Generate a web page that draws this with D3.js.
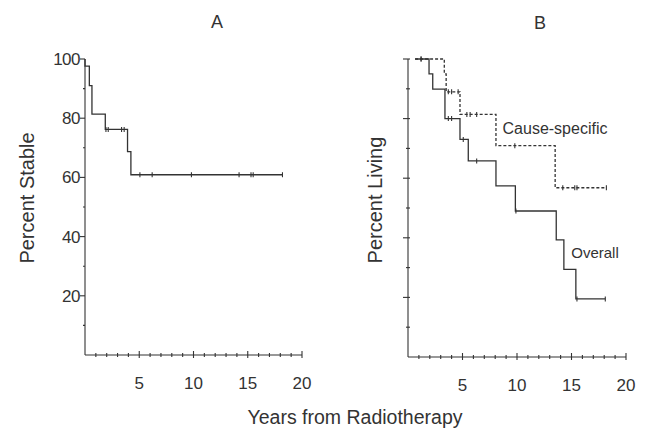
<!DOCTYPE html>
<html>
<head>
<meta charset="utf-8">
<script src="https://cdn.jsdelivr.net/npm/d3@7"></script>
<style>
  body { margin: 0; background: #fff; }
  svg { font-family: "Liberation Sans", Arial, sans-serif; }
</style>
</head>
<body>
<svg width="648" height="429"></svg>
<script>
// Panel A: percent stable
var stableTime  = [0, 0, 0.4, 0.64, 1.87, 3.92, 4.23, 18.2]
var stableValue = [100, 97.6, 91, 81.4, 76.2, 68.7, 60.9, 60.9]
var stableCensor = [1.93, 2.14, 3.37, 3.61, 5.06, 6.19, 9.81, 14.2, 15.3, 15.5, 18.2]

// Panel B: percent living
var overallTime  = [0.65, 1.93, 2.27, 3.39, 4.77, 5.53, 8.07, 9.85, 13.6, 14.3, 15.4, 18.1]
var overallValue = [100, 95, 89.9, 80, 73, 65.8, 57.4, 49, 39.3, 29.4, 19.5, 19.5]
var overallCensor = [1.2, 3.7, 4.0, 5.07, 6.3, 9.9, 15.5, 18.1]

var causeTime  = [0.65, 3.33, 3.5, 4.77, 8.07, 13.5, 18.2]
var causeValue = [100, 95, 89, 81.4, 70.9, 56.8, 56.8]
var causeCensor = [1.2, 3.7, 4.0, 4.6, 5.4, 5.7, 6.3, 9.8, 14.2, 15.3, 15.5, 18.2]

var xTicks = [5, 10, 15, 20]
var yTicksA = [20, 40, 60, 80, 100]

var svg = d3.select('svg')
var ink = '#333'

// value of a step curve at time t
function stepAt(times, values, t) {
    var v = values[0]
    for (var i = 0; i < times.length; i++) {
        if (times[i] <= t) v = values[i]
    }
    return v
}

function drawAxes(x, y, labels) {
    var g = svg.append('g').attr('stroke', ink).attr('stroke-width', 1.1)
    // y axis
    g.append('line').attr('x1', x(0)).attr('x2', x(0)).attr('y1', y(0)).attr('y2', y(100))
    d3.range(10, 101, 10).forEach(function (v) {
        var major = v % 20 == 0
        g.append('line')
            .attr('x1', x(0) - (major ? 5 : 2)).attr('x2', x(0) + (labels ? 0 : 2))
            .attr('y1', y(v)).attr('y2', y(v))
    })
    // x axis
    g.append('line').attr('x1', x(0)).attr('x2', x(20)).attr('y1', y(0)).attr('y2', y(0))
    d3.range(1, 21).forEach(function (t) {
        var major = t % 5 == 0
        g.append('line')
            .attr('x1', x(t)).attr('x2', x(t))
            .attr('y1', y(0) - (major ? 4 : 2)).attr('y2', y(0) + (major ? 3 : 2))
    })
    svg.selectAll(null).data(xTicks).enter().append('text')
        .attr('x', function (d) { return x(d) }).attr('y', y(0) + 34)
        .attr('text-anchor', 'middle').attr('font-size', 17).attr('fill', ink)
        .text(function (d) { return d })
    if (labels) {
        svg.selectAll(null).data(yTicksA).enter().append('text')
            .attr('x', x(0) - 5).attr('y', function (d) { return y(d) + 6 })
            .attr('text-anchor', 'end').attr('font-size', 17).attr('fill', ink)
            .attr('letter-spacing', -0.5)
            .text(function (d) { return d })
    }
}

function drawCurve(x, y, times, values, censor, dash) {
    var pts = times.map(function (t, i) { return [t, values[i]] })
    var line = d3.line()
        .x(function (d) { return x(d[0]) })
        .y(function (d) { return y(d[1]) })
        .curve(d3.curveStepAfter)
    svg.append('path').datum(pts)
        .attr('d', line)
        .attr('fill', 'none').attr('stroke', ink).attr('stroke-width', 1.3)
        .attr('stroke-dasharray', dash ? '3,2' : null)
    svg.selectAll(null).data(censor).enter().append('line')
        .attr('x1', function (d) { return x(d) }).attr('x2', function (d) { return x(d) })
        .attr('y1', function (d) { return y(stepAt(times, values, d)) - 2.5 })
        .attr('y2', function (d) { return y(stepAt(times, values, d)) + 2.5 })
        .attr('stroke', ink).attr('stroke-width', 1.1)
}

// Panel A
var xA = d3.scaleLinear().domain([0, 20]).range([85, 302])
var yA = d3.scaleLinear().domain([0, 100]).range([355, 59])
drawAxes(xA, yA, true)
drawCurve(xA, yA, stableTime, stableValue, stableCensor, false)

// Panel B
var xB = d3.scaleLinear().domain([0, 20]).range([408, 626])
var yB = d3.scaleLinear().domain([0, 100]).range([357, 59])
drawAxes(xB, yB, false)
drawCurve(xB, yB, causeTime, causeValue, causeCensor, true)
drawCurve(xB, yB, overallTime, overallValue, overallCensor, false)

// Titles and labels
function label(txt, x, y, size, rot) {
    var t = svg.append('text').attr('x', x).attr('y', y)
        .attr('text-anchor', 'middle').attr('font-size', size).attr('fill', ink)
        .text(txt)
    if (rot) t.attr('transform', 'rotate(-90,' + x + ',' + y + ')')
    return t
}
label('A', 217, 28, 18)
label('B', 540, 29, 18)
label('Percent Stable', 34, 198, 20, true)
label('Percent Living', 382, 200, 20, true)
label('Years from Radiotherapy', 355, 424, 19.5)
label('Cause-specific', 555, 133.5, 16)
label('Overall', 595, 258, 15)
</script>
</body>
</html>
